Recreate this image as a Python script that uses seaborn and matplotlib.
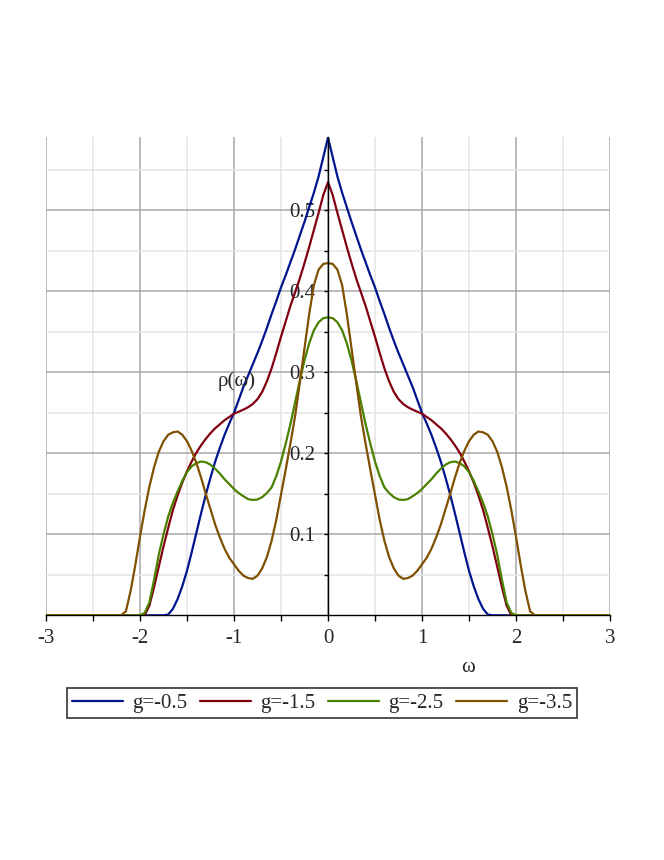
import numpy as np
import pandas as pd
import matplotlib
matplotlib.use("Agg")
import matplotlib.pyplot as plt
from matplotlib.ticker import MultipleLocator, FixedLocator
import seaborn as sns

# sample positions: -3, then -2.2 .. 2.2 every 0.05, then 3
omega = [-3.0] + list(np.round(np.arange(-2.2, 2.2001, 0.05), 2)) + [3.0]

# values (left half, centre, right half)
rho_g05 = [0,
           0, 0, 0, 0, 0, 0, 0, 0, 0, 0,
           0.001, 0.008, 0.02, 0.036, 0.055, 0.078, 0.102, 0.126, 0.149, 0.17,
           0.19, 0.207, 0.223, 0.237, 0.25, 0.266, 0.282, 0.296, 0.31, 0.324,
           0.339, 0.355, 0.372, 0.388, 0.405, 0.42, 0.436, 0.452, 0.469, 0.486,
           0.504, 0.522, 0.542, 0.566, 0.590,
           0.566, 0.542, 0.522, 0.504, 0.486, 0.469, 0.452, 0.436, 0.42, 0.405,
           0.388, 0.372, 0.355, 0.339, 0.324, 0.31, 0.296, 0.282, 0.266, 0.25,
           0.237, 0.223, 0.207, 0.19, 0.17, 0.149, 0.126, 0.102, 0.078, 0.055,
           0.036, 0.02, 0.008, 0.001, 0, 0, 0, 0, 0, 0,
           0, 0, 0, 0,
           0]

rho_g15 = [0,
           0, 0, 0, 0, 0, 0, 0.012, 0.035, 0.06, 0.085,
           0.108, 0.13, 0.148, 0.164, 0.178, 0.19, 0.201, 0.21, 0.218, 0.225,
           0.231, 0.236, 0.241, 0.245, 0.249, 0.2515, 0.254, 0.257, 0.261, 0.267,
           0.276, 0.289, 0.305, 0.324, 0.344, 0.363, 0.382, 0.399, 0.416, 0.435,
           0.455, 0.476, 0.497, 0.519, 0.535,
           0.519, 0.497, 0.476, 0.455, 0.435, 0.416, 0.399, 0.382, 0.363, 0.344,
           0.324, 0.305, 0.289, 0.276, 0.267, 0.261, 0.257, 0.254, 0.2515, 0.249,
           0.245, 0.241, 0.236, 0.231, 0.225, 0.218, 0.21, 0.201, 0.19, 0.178,
           0.164, 0.148, 0.13, 0.108, 0.085, 0.06, 0.035, 0.012, 0, 0,
           0, 0, 0, 0,
           0]

rho_g25 = [0,
           0, 0, 0, 0, 0, 0.003, 0.016, 0.044, 0.075, 0.1,
           0.122, 0.139, 0.153, 0.166, 0.177, 0.184, 0.188, 0.19, 0.189, 0.186,
           0.181, 0.175, 0.168, 0.162, 0.156, 0.151, 0.147, 0.1435, 0.1425, 0.143,
           0.146, 0.151, 0.158, 0.172, 0.19, 0.212, 0.236, 0.263, 0.29, 0.315,
           0.336, 0.352, 0.362, 0.367, 0.368,
           0.367, 0.362, 0.352, 0.336, 0.315, 0.29, 0.263, 0.236, 0.212, 0.19,
           0.172, 0.158, 0.151, 0.146, 0.143, 0.1425, 0.1435, 0.147, 0.151, 0.156,
           0.162, 0.168, 0.175, 0.181, 0.186, 0.189, 0.19, 0.188, 0.184, 0.177,
           0.166, 0.153, 0.139, 0.122, 0.1, 0.075, 0.044, 0.016, 0.003, 0,
           0, 0, 0, 0,
           0]

rho_g35 = [0,
           0, 0.005, 0.03, 0.062, 0.097, 0.13, 0.159, 0.183, 0.202, 0.215,
           0.223, 0.226, 0.227, 0.223, 0.215, 0.203, 0.188, 0.17, 0.15, 0.131,
           0.112, 0.096, 0.082, 0.071, 0.063, 0.055, 0.049, 0.046, 0.045, 0.049,
           0.058, 0.072, 0.092, 0.118, 0.149, 0.18, 0.212, 0.246, 0.287, 0.33,
           0.372, 0.408, 0.427, 0.434, 0.435,
           0.434, 0.427, 0.408, 0.372, 0.33, 0.287, 0.246, 0.212, 0.18, 0.149,
           0.118, 0.092, 0.072, 0.058, 0.049, 0.045, 0.046, 0.049, 0.055, 0.063,
           0.071, 0.082, 0.096, 0.112, 0.131, 0.15, 0.17, 0.188, 0.203, 0.215,
           0.223, 0.227, 0.226, 0.223, 0.215, 0.202, 0.183, 0.159, 0.13, 0.097,
           0.062, 0.03, 0.005, 0,
           0]

labels = ["g=-0.5", "g=-1.5", "g=-2.5", "g=-3.5"]
colors = ["#001490", "#80000f", "#4a8000", "#7f5000"]

frames = []
for lab, vals in zip(labels, [rho_g05, rho_g15, rho_g25, rho_g35]):
    frames.append(pd.DataFrame({"omega": omega, "rho": vals, "g": lab}))
df = pd.concat(frames, ignore_index=True)

sns.set_style("white")
plt.rcParams["font.family"] = ["Liberation Serif", "DejaVu Serif"]

fig = plt.figure(figsize=(6.64, 8.6), dpi=100)
ax = fig.add_axes([46 / 664, 1 - 615.3 / 860, 564 / 664, 478.5 / 860])

sns.lineplot(data=df, x="omega", y="rho", hue="g", palette=colors,
             estimator=None, linewidth=1.6, ax=ax, legend=False, zorder=3)

ax.set_xlim(-3, 3)
ax.set_ylim(0, 0.591)

ax.xaxis.set_major_locator(MultipleLocator(1))
ax.xaxis.set_minor_locator(MultipleLocator(0.5))
ax.yaxis.set_major_locator(FixedLocator([0.1, 0.2, 0.3, 0.4, 0.5]))
ax.yaxis.set_minor_locator(FixedLocator([0.05, 0.15, 0.25, 0.35, 0.45, 0.55]))

ax.grid(True, which="major", color="#a8a8a8", linewidth=1.1, zorder=0)
ax.grid(True, which="minor", color="#e4e4e4", linewidth=1.1, zorder=0)
ax.set_axisbelow(True)

for s in ["top", "right"]:
    ax.spines[s].set_visible(False)
ax.spines["left"].set_position(("data", 0))
ax.spines["left"].set_color("black")
ax.spines["left"].set_linewidth(1.0)
ax.spines["left"].set_zorder(4)
ax.spines["bottom"].set_color("black")
ax.spines["bottom"].set_linewidth(1.0)

ax.tick_params(axis="x", which="both", direction="out", bottom=True,
               length=4, width=1, color="black", labelsize=15, pad=6)
ax.tick_params(axis="y", which="both", direction="out", left=True,
               length=3, width=1, color="black", labelsize=15, pad=6)
ax.set_xticklabels([str(int(v)) for v in ax.get_xticks()])
ax.set_yticklabels(["0.1", "0.2", "0.3", "0.4", "0.5"])

ax.set_xlabel("")
ax.set_ylabel("")
fig.text(237 / 664, 1 - 381 / 860, "ρ(ω)", fontsize=15, ha="center", va="center")
fig.text(468 / 664, 1 - 668 / 860, "ω", fontsize=15, ha="center", va="center")

handles = [plt.Line2D([], [], color=c, linewidth=1.6) for c in colors]
leg = fig.legend(handles, labels, ncol=4, loc="center",
                 bbox_to_anchor=(322 / 664, 1 - 703 / 860), frameon=True,
                 fancybox=False, edgecolor="black", fontsize=15,
                 handlelength=2.45, handletextpad=0.45, columnspacing=0.6,
                 borderpad=0.25, borderaxespad=0)
leg.get_frame().set_linewidth(1.2)

fig.savefig("out.png", dpi=100)
